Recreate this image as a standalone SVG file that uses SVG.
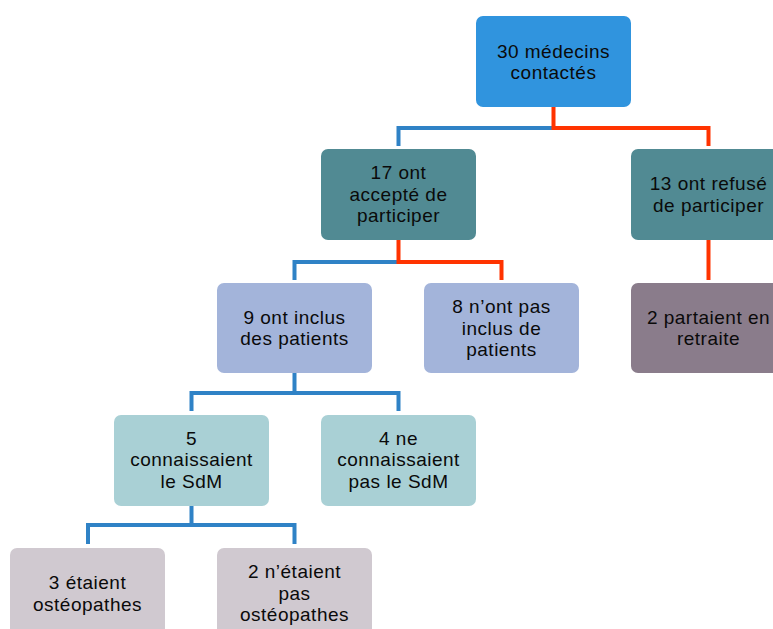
<svg xmlns="http://www.w3.org/2000/svg" width="773" height="629" viewBox="0 0 773 629">
<style>
.t{font-family:"Liberation Sans",Arial,sans-serif;font-size:19px;letter-spacing:0.5px;fill:#0a0a0a;text-anchor:middle}
.blue{fill:none;stroke:#2F82C6;stroke-width:4}
.red{fill:none;stroke:#FF3300;stroke-width:4}
.c0{fill:#3094DE}.c1{fill:#518A93}.c2{fill:#A3B4DA}.c3{fill:#8A7C8B}.c4{fill:#A9D0D5}.c5{fill:#D0C9D0}
</style>
<rect width="773" height="629" fill="#fff"/>
<g id="connectors">
<path class="blue" d="M553.5,128 H398.5 V146"/>
<path class="red" d="M553.5,107 V128 H708.5 V146"/>
<path class="blue" d="M398.5,262 H294.5 V280"/>
<path class="red" d="M398.5,240 V262 H501.5 V280"/>
<path class="red" d="M708.5,240 V280"/>
<path class="blue" d="M294.5,373 V393 H191.5 V411 M294.5,393 H398.5 V411"/>
<path class="blue" d="M191.5,505 V525 H88 V544 M191.5,525 H294.5 V544"/>
</g>
<g id="n30"><rect class="c0" x="476" y="16" width="155" height="91" rx="7"/>
<text class="t" x="553.5" y="57.5">30 médecins</text><text class="t" x="553.5" y="79">contactés</text></g>
<g id="n17"><rect class="c1" x="321" y="149" width="155" height="91" rx="7"/>
<text class="t" x="398.5" y="179">17 ont</text><text class="t" x="398.5" y="200.5">accepté de</text><text class="t" x="398.5" y="222">participer</text></g>
<g id="n13"><rect class="c1" x="631" y="149" width="155" height="91" rx="7"/>
<text class="t" x="708.5" y="190">13 ont refusé</text><text class="t" x="708.5" y="211.5">de participer</text></g>
<g id="n9"><rect class="c2" x="217" y="283" width="155" height="90" rx="7"/>
<text class="t" x="294.5" y="323.5">9 ont inclus</text><text class="t" x="294.5" y="345">des patients</text></g>
<g id="n8"><rect class="c2" x="424" y="283" width="155" height="90" rx="7"/>
<text class="t" x="501.5" y="313">8 n’ont pas</text><text class="t" x="501.5" y="334.5">inclus de</text><text class="t" x="501.5" y="356">patients</text></g>
<g id="n2r"><rect class="c3" x="631" y="283" width="155" height="90" rx="7"/>
<text class="t" x="708.5" y="323.5">2 partaient en</text><text class="t" x="708.5" y="345">retraite</text></g>
<g id="n5"><rect class="c4" x="114" y="415" width="155" height="91" rx="7"/>
<text class="t" x="191.5" y="444.5">5</text><text class="t" x="191.5" y="466">connaissaient</text><text class="t" x="191.5" y="487.5">le SdM</text></g>
<g id="n4"><rect class="c4" x="321" y="415" width="155" height="91" rx="7"/>
<text class="t" x="398.5" y="444.5">4 ne</text><text class="t" x="398.5" y="466">connaissaient</text><text class="t" x="398.5" y="487.5">pas le SdM</text></g>
<g id="n3"><rect class="c5" x="10" y="548" width="155" height="91" rx="7"/>
<text class="t" x="87.5" y="589">3 étaient</text><text class="t" x="87.5" y="610.5">ostéopathes</text></g>
<g id="n2o"><rect class="c5" x="217" y="548" width="155" height="91" rx="7"/>
<text class="t" x="294.5" y="578">2 n’étaient</text><text class="t" x="294.5" y="599.5">pas</text><text class="t" x="294.5" y="621">ostéopathes</text></g>
</svg>
